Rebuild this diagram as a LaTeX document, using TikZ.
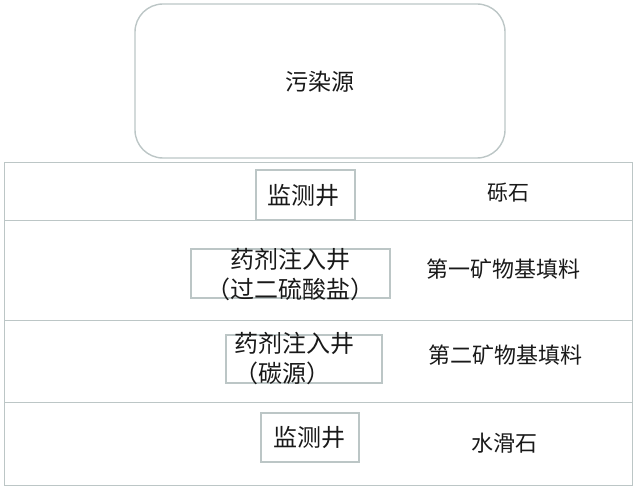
\documentclass[tikz,border=0pt]{standalone}
\usepackage{fontspec}
\newfontfamily\cjk{Noto Sans CJK SC}
\definecolor{lineclr}{RGB}{188,198,198}
\definecolor{txtclr}{RGB}{25,25,25}
\tikzset{
  layer/.style={draw=lineclr, line width=1.4pt, rectangle, minimum width=628pt, inner sep=0pt, anchor=north west},
  wellbox/.style={draw=lineclr, line width=1.4pt, rectangle, inner sep=0pt},
  lbl/.style={text=txtclr, font=\cjk\fontsize{22}{26}\selectfont, inner sep=0pt},
  wlbl/.style={text=txtclr, font=\cjk\fontsize{24}{30}\selectfont, inner sep=0pt}
}
\begin{document}
\begin{tikzpicture}[x=1pt,y=-1pt]
\useasboundingbox (0,0) rectangle (640,489);
% pollution source
\node[draw=lineclr, line width=1.4pt, rounded corners=28pt, minimum width=370pt, minimum height=154pt, inner sep=0pt] (src) at (320,81) {};
\node[lbl, font=\cjk\fontsize{23}{26}\selectfont] (srct) at (320,82) {污染源};
% layers
\node[layer, minimum height=58pt] (l1) at (4,162) {};
\node[layer, minimum height=100pt] (l2) at (4,220) {};
\node[layer, minimum height=82pt] (l3) at (4,320) {};
\node[layer, minimum height=83pt] (l4) at (4,402) {};
% layer labels
\node[lbl, font=\cjk\fontsize{21}{26}\selectfont] (t1) at (508,193) {砾石};
\node[lbl] (t2) at (503,269) {第一矿物基填料};
\node[lbl] (t3) at (505,355) {第二矿物基填料};
\node[lbl] (t4) at (504,443) {水滑石};
% wells
\node[wellbox, minimum width=99pt, minimum height=50pt] (w1) at (305.5,195) {};
\node[wlbl] (w1t) at (303,196) {监测井};
\node[wellbox, minimum width=199pt, minimum height=49pt] (w2) at (290.5,273.5) {};
\node[wlbl, align=center] (w2t) at (290,275) {药剂注入井\\（过二硫酸盐）};
\node[wellbox, minimum width=156pt, minimum height=48pt] (w3) at (304,359) {};
\node[wlbl, align=left, anchor=west] (w3t) at (234,359) {药剂注入井\\（碳源）};
\node[wellbox, minimum width=98pt, minimum height=49pt] (w4) at (310,437.5) {};
\node[wlbl] (w4t) at (309,438) {监测井};
\end{tikzpicture}
\end{document}
